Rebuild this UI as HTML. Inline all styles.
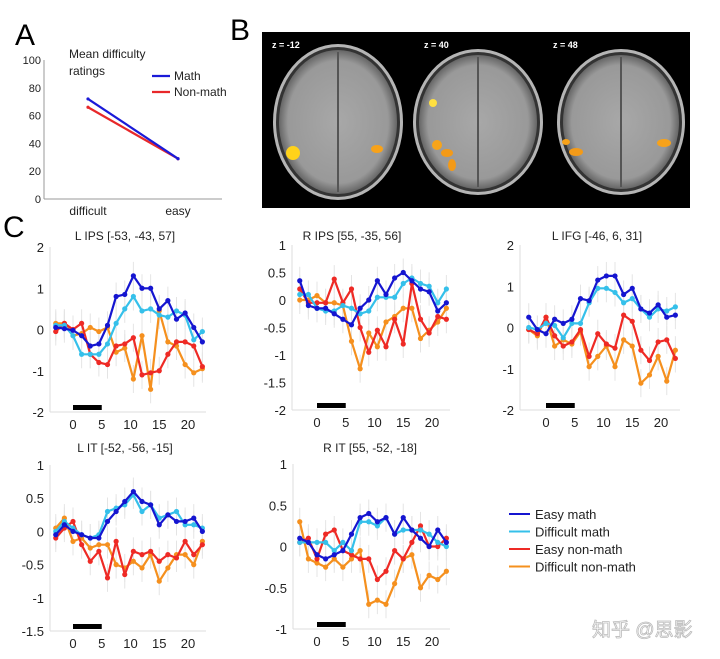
<!DOCTYPE html>
<html><head><meta charset="utf-8">
<style>
html,body{margin:0;padding:0;background:#fff;}
svg{display:block;font-family:"Liberation Sans","Noto Sans CJK SC",sans-serif;}
</style></head>
<body>
<svg id="fig" width="720" height="659" viewBox="0 0 720 659" xmlns="http://www.w3.org/2000/svg">
<text x="15" y="45" font-size="30" fill="#000">A</text>
<text x="230" y="40" font-size="30" fill="#000">B</text>
<text x="3" y="237" font-size="30" fill="#000">C</text>
<g id="panelA"></g>
<g id="panelB">
  <rect x="262" y="32" width="428" height="176" fill="#000"/>
</g>
<g id="panelC"></g>
<g id="legend"></g>
<text x="592" y="636" font-size="19" fill="#fff" stroke="#bbb" stroke-width="0.8">知乎 @思影</text>
</svg>
<script>
// ---- Panel A data ----
const aCategories = ["difficult", "easy"];
const aMath = [72, 29];
const aNonMath = [66, 29];
const aTicks = [0, 20, 40, 60, 80, 100];

// ---- Panel C data ----
const times = [-3,-1.5,0,1.5,3,4.5,6,7.5,9,10.5,12,13.5,15,16.5,18,19.5,21,22.5];
const seriesNames = ["Easy math","Difficult math","Easy non-math","Difficult non-math"];
const seriesColors = ["#1515d0","#35c0ea","#ee2a25","#f5901e"];
const xTicks = [0,5,10,15,20];

const lipsEasyMath = [0.05,0.02,-0.02,-0.15,-0.4,-0.35,0.1,0.8,0.85,1.3,1.0,1.0,0.5,0.7,0.25,0.4,0.05,-0.3];
const lipsDiffMath = [0.1,0.1,-0.15,-0.6,-0.6,-0.6,-0.35,0.15,0.5,0.8,0.45,0.5,0.35,0.3,0.45,0.35,-0.25,-0.05];
const lipsEasyNon = [-0.05,0.15,0.0,0.15,-0.6,-0.8,-0.85,-0.4,-0.35,-0.2,-1.1,-1.05,-1.0,-0.6,-0.3,-0.3,-0.4,-0.9];
const lipsDiffNon = [0.15,0.15,-0.15,-0.1,0.05,-0.05,0.05,-0.55,-0.45,-1.2,-0.15,-1.45,0.45,-0.3,-0.4,-0.85,-1.05,-0.95];
const lipsTicks = [-2,-1,0,1,2];

const ripsEasyMath = [0.35,-0.1,-0.15,-0.15,-0.25,-0.35,-0.45,-0.15,0.0,0.35,0.1,0.4,0.5,0.35,0.2,0.15,-0.2,-0.05];
const ripsDiffMath = [0.1,0.1,-0.15,-0.2,-0.2,-0.1,-0.15,-0.25,-0.2,0.05,0.05,0.05,0.3,0.4,0.3,0.25,-0.05,0.2];
const ripsEasyNon = [0.2,-0.05,-0.05,-0.05,0.38,-0.05,0.2,-0.5,-0.95,-0.55,-0.85,-0.35,-0.8,0.3,-0.35,-0.6,-0.3,-0.35];
const ripsDiffNon = [0.0,0.0,0.08,-0.05,-0.05,-0.1,-0.75,-1.25,-0.6,-0.85,-0.4,-0.3,-0.15,-0.15,-0.7,-0.55,-0.4,-0.15];
const ripsTicks = [-2,-1.5,-1,-0.5,0,0.5,1];

const lifgEasyMath = [0.25,-0.05,-0.15,0.2,0.1,0.2,0.7,0.65,1.15,1.25,1.25,0.8,0.95,0.45,0.35,0.55,0.25,0.3];
const lifgDiffMath = [0.0,-0.05,0.1,0.05,-0.25,0.1,0.1,0.6,0.95,0.95,0.85,0.6,0.7,0.45,0.25,0.45,0.4,0.5];
const lifgEasyNon = [-0.05,-0.15,0.25,-0.2,-0.45,-0.35,-0.05,-0.7,-0.15,-0.4,-0.5,0.3,0.15,-0.55,-0.8,-0.35,-0.3,-0.75];
const lifgDiffNon = [-0.05,-0.2,0.25,-0.45,-0.3,-0.4,-0.1,-0.95,-0.7,-0.45,-0.95,-0.3,-0.45,-1.35,-1.15,-0.7,-1.3,-0.55];
const lifgTicks = [-2,-1,0,1,2];

const litEasyMath = [-0.05,0.1,0.0,-0.05,-0.1,-0.1,0.15,0.3,0.45,0.6,0.45,0.4,0.1,0.25,0.15,0.15,0.2,0.0];
const litDiffMath = [0.0,0.15,0.05,-0.05,-0.1,-0.05,0.3,0.35,0.4,0.55,0.3,0.4,0.2,0.25,0.3,0.1,0.1,0.05];
const litEasyNon = [-0.1,0.05,0.15,-0.2,-0.45,-0.3,-0.7,-0.15,-0.65,-0.3,-0.35,-0.3,-0.45,-0.35,-0.4,-0.15,-0.35,-0.2];
const litDiffNon = [0.05,0.2,-0.15,-0.1,-0.25,-0.2,-0.2,-0.5,-0.55,-0.45,-0.55,-0.35,-0.75,-0.55,-0.35,-0.35,-0.5,-0.15];
const litTicks = [-1.5,-1,-0.5,0,0.5,1];

const ritEasyMath = [0.1,0.05,-0.1,-0.15,-0.1,-0.05,0.15,0.35,0.4,0.3,0.35,0.15,0.35,0.2,0.1,0.0,0.2,0.05];
const ritDiffMath = [0.05,0.05,0.05,0.05,-0.05,0.05,-0.05,0.3,0.3,0.25,0.35,0.15,0.2,0.2,0.2,0.15,0.05,0.0];
const ritEasyNon = [0.05,0.1,-0.15,0.15,0.2,-0.05,-0.1,-0.15,-0.15,-0.4,-0.3,-0.05,-0.15,0.05,0.25,0.0,0.0,0.1];
const ritDiffNon = [0.3,-0.15,-0.2,-0.25,-0.15,-0.25,-0.15,-0.05,-0.7,-0.65,-0.7,-0.45,-0.15,-0.1,-0.5,-0.35,-0.4,-0.3];
const ritTicks = [-1,-0.5,0,0.5,1];

const NS = "http://www.w3.org/2000/svg";
function mk(parent, tag, attrs, text){
  const e = document.createElementNS(NS, tag);
  for (const k in attrs) e.setAttribute(k, attrs[k]);
  if (text !== undefined) e.textContent = text;
  parent.appendChild(e);
  return e;
}

// ---- Panel A ----
(function(){
  const g = document.getElementById('panelA');
  const yTop = 60, yBot = 199, xL = 44, xR = 222;
  const ys = v => yBot - (v / 100) * (yBot - yTop);
  const xs = i => 88 + i * 90;
  let ax = mk(g,'line',{x1:xL,y1:yTop,x2:xL,y2:yBot,stroke:'#999','stroke-width':1});
  
  
  ax = mk(g,'line',{x1:xL,y1:yBot,x2:xR,y2:yBot,stroke:'#999','stroke-width':1});
  
  
  aTicks.forEach(v=>{
    const t = mk(g,'text',{x:xL-3,y:ys(v)+4,'font-size':11,'text-anchor':'end',fill:'#222'}, String(v));
    
    
  });
  aCategories.forEach((c,i)=>{
    const t = mk(g,'text',{x:xs(i),y:215,'font-size':12,'text-anchor':'middle',fill:'#222'}, c);
    
    
  });
  [[aNonMath,'#e8282a','nonmath'],[aMath,'#1a1ad8','math']].forEach(([d,c,n])=>{
    const l = mk(g,'line',{x1:xs(0),y1:ys(d[0]),x2:xs(1),y2:ys(d[1]),stroke:c,'stroke-width':2.2});
    
    
    d.forEach((v,i)=>{ const p = mk(g,'circle',{cx:xs(i),cy:ys(v),r:1.6,fill:c});
      
       });
  });
  let t = mk(g,'text',{x:69,y:58,'font-size':12,fill:'#222'},'Mean difficulty');
  
  
  t = mk(g,'text',{x:69,y:75,'font-size':12,fill:'#222'},'ratings');
  
  
  [['Math','#1a1ad8',80],['Non-math','#e8282a',96]].forEach(([n,c,y])=>{
    const l = mk(g,'line',{x1:152,y1:y-4,x2:170,y2:y-4,stroke:c,'stroke-width':2.2});
    
    
    const tt = mk(g,'text',{x:174,y:y,'font-size':12,fill:'#222'},n);
    
    
  });
})();

// ---- Panel B ----
(function(){
  const g = document.getElementById('panelB');
  const defs = mk(g,'defs',{});
  const rg = mk(defs,'radialGradient',{id:'brainGrad',cx:'50%',cy:'50%',r:'50%'});
  mk(rg,'stop',{offset:'0%','stop-color':'#a8a8a8'});
  mk(rg,'stop',{offset:'85%','stop-color':'#999'});
  mk(rg,'stop',{offset:'100%','stop-color':'#666'});
  const brains = [[338,122,65,78,'z = -12',272],[478,122,65,73,'z = 40',424],[621,122,64,73,'z = 48',553]];
  brains.forEach(([cx,cy,rx,ry,lab,lx],i)=>{
    const s = mk(g,'ellipse',{cx,cy,rx,ry,fill:'#b5b5b5'});
    
    
    mk(g,'ellipse',{cx,cy,rx:rx-3,ry:ry-3,fill:'#333'});
    const b = mk(g,'ellipse',{cx,cy,rx:rx-6,ry:ry-6,fill:'url(#brainGrad)'});
    
    
    mk(g,'line',{x1:cx,y1:cy-ry+8,x2:cx,y2:cy+ry-8,stroke:'#555','stroke-width':2});
    const t = mk(g,'text',{x:lx,y:48,'font-size':9,fill:'#fff','font-weight':'bold'},lab);
    
    
  });
  const blobs = [[293,153,7,7,'#ffd21a'],[377,149,6,4,'#f7a21a'],[433,103,4,4,'#ffe040'],[437,145,5,5,'#f7a41a'],[447,153,6,4,'#f39a18'],[452,165,4,6,'#f39a18'],[566,142,4,3,'#f7a21a'],[576,152,7,4,'#f39a18'],[664,143,7,4,'#f7a21a']];
  blobs.forEach(([cx,cy,rx,ry,c])=>{
    const e = mk(g,'ellipse',{cx,cy,rx,ry,fill:c});
    
    
  });
})();

// ---- Panel C ----
const panels = [
  {name:'l-ips', title:'L IPS [-53, -43, 57]', tx:125, ty:240, data:[lipsEasyMath,lipsDiffMath,lipsEasyNon,lipsDiffNon], ticks:lipsTicks, ax:50, yTopPx:247, yBotPx:412, x0:73, xr:206},
  {name:'r-ips', title:'R IPS [55, -35, 56]', tx:352, ty:240, data:[ripsEasyMath,ripsDiffMath,ripsEasyNon,ripsDiffNon], ticks:ripsTicks, ax:292, yTopPx:245, yBotPx:410, x0:317, xr:450},
  {name:'l-ifg', title:'L IFG [-46, 6, 31]', tx:597, ty:240, data:[lifgEasyMath,lifgDiffMath,lifgEasyNon,lifgDiffNon], ticks:lifgTicks, ax:520, yTopPx:245, yBotPx:410, x0:546, xr:680},
  {name:'l-it', title:'L IT [-52, -56, -15]', tx:125, ty:452, data:[litEasyMath,litDiffMath,litEasyNon,litDiffNon], ticks:litTicks, ax:50, yTopPx:465, yBotPx:631, x0:73, xr:206},
  {name:'r-it', title:'R IT [55, -52, -18]', tx:370, ty:452, data:[ritEasyMath,ritDiffMath,ritEasyNon,ritDiffNon], ticks:ritTicks, ax:293, yTopPx:464, yBotPx:629, x0:317, xr:450}
];
const pxPerSec = 5.75;
const gC = document.getElementById('panelC');
panels.forEach(p=>{
  const g = mk(gC,'g',{});
  
  
  const yMin = p.ticks[0], yMax = p.ticks[p.ticks.length-1];
  const ys = v => p.yBotPx - (v - yMin)/(yMax - yMin)*(p.yBotPx - p.yTopPx);
  const xs = t => p.x0 + t*pxPerSec;
  const title = mk(g,'text',{x:p.tx,y:p.ty,'font-size':12,'text-anchor':'middle',fill:'#222'},p.title);
  
  
  let a = mk(g,'line',{x1:p.ax,y1:p.yTopPx,x2:p.ax,y2:p.yBotPx,stroke:'#ddd','stroke-width':1});
  
  
  a = mk(g,'line',{x1:p.ax,y1:p.yBotPx,x2:p.xr,y2:p.yBotPx,stroke:'#ddd','stroke-width':1});
  
  
  p.ticks.forEach(v=>{
    const t = mk(g,'text',{x:p.ax-6,y:ys(v)+5,'font-size':13,'text-anchor':'end',fill:'#222'},String(v));
    
    
  });
  xTicks.forEach(v=>{
    const t = mk(g,'text',{x:xs(v),y:p.yBotPx+17,'font-size':13,'text-anchor':'middle',fill:'#222'},String(v));
    
    
  });
  const bar = mk(g,'rect',{x:xs(0),y:p.yBotPx-7,width:xs(5)-xs(0),height:5,fill:'#000'});
  
  
  p.data.forEach((d,si)=>{
    d.forEach((v,i)=>{
      const e = mk(g,'line',{x1:xs(times[i]),y1:ys(v)-14,x2:xs(times[i]),y2:ys(v)+14,stroke:'#e4e4e4','stroke-width':1});
      
      
    });
  });
  [3,2,1,0].forEach(si=>{
    const d = p.data[si];
    const pts = d.map((v,i)=>xs(times[i]).toFixed(1)+','+ys(v).toFixed(1)).join(' ');
    const l = mk(g,'polyline',{points:pts,fill:'none',stroke:seriesColors[si],'stroke-width':2.2,'stroke-linejoin':'round'});
    
    
    d.forEach((v,i)=>{
      const c = mk(g,'circle',{cx:xs(times[i]),cy:ys(v),r:2.6,fill:seriesColors[si]});
      
      
    });
  });
});

// ---- Legend ----
(function(){
  const g = document.getElementById('legend');
  seriesNames.forEach((n,i)=>{
    const y = 514 + i*17.5;
    const l = mk(g,'line',{x1:509,y1:y,x2:530,y2:y,stroke:seriesColors[i],'stroke-width':2});
    
    
    const t = mk(g,'text',{x:535,y:y+5,'font-size':13,fill:'#222'},n);
    
    
  });
})();
</script>
</body></html>
